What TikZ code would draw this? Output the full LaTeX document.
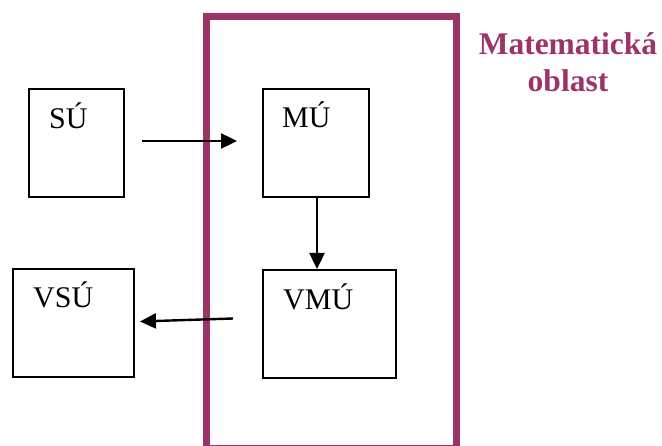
\documentclass[tikz,border=0pt]{standalone}
\usepackage{fontspec}
\setmainfont{Liberation Serif}
\usetikzlibrary{arrows.meta}
\definecolor{maroon}{RGB}{156,52,103}
\tikzset{
  box/.style={draw=black, line width=2pt, fill=none, inner sep=0pt, anchor=north west},
  lbl/.style={anchor=base west, inner sep=0pt, font=\fontsize{30}{36}\selectfont},
  conn/.style={draw=black, line width=2.4pt, -{Triangle[length=16pt,width=15pt]}},
  area/.style={draw=maroon, line width=7pt}
}
\begin{document}
\begin{tikzpicture}[x=1pt,y=-1pt]
\useasboundingbox (0,0) rectangle (662,446);
\begin{scope}
\clip (0,0) rectangle (662,446);
\draw[area] (206.5,16.5) rectangle (456.5,449);
\end{scope}
\node[anchor=base, inner sep=0pt, text=maroon, font=\bfseries\fontsize{31.5}{37}\selectfont, align=center] (title) at (568,92) {Matematická\\oblast};
% boxes
\node[box, minimum width=95pt, minimum height=108pt] (su) at (28,88.5) {};
\node[box, minimum width=106pt, minimum height=108pt] (mu) at (262,88.5) {};
\node[box, minimum width=133pt, minimum height=108pt] (vmu) at (262,269) {};
\node[box, minimum width=121pt, minimum height=108pt] (vsu) at (11.7,268.3) {};
% labels
\node[lbl] (tsu) at (49,129) {SÚ};
\node[lbl] (tmu) at (282,128) {MÚ};
\node[lbl] (tvmu) at (283,310) {VMÚ};
\node[lbl] (tvsu) at (33,308) {VSÚ};
% connectors
\coordinate (a1s) at (142,141);
\coordinate (a1e) at (237,141);
\coordinate (a3s) at (233,318.5);
\coordinate (a3e) at (140,321.5);
\draw[conn] (a1s) -- (a1e);
\draw[conn] (mu.south -| 317,0) -- (vmu.north -| 317,0);
\draw[conn] (a3s) -- (a3e);
\end{tikzpicture}
\end{document}
